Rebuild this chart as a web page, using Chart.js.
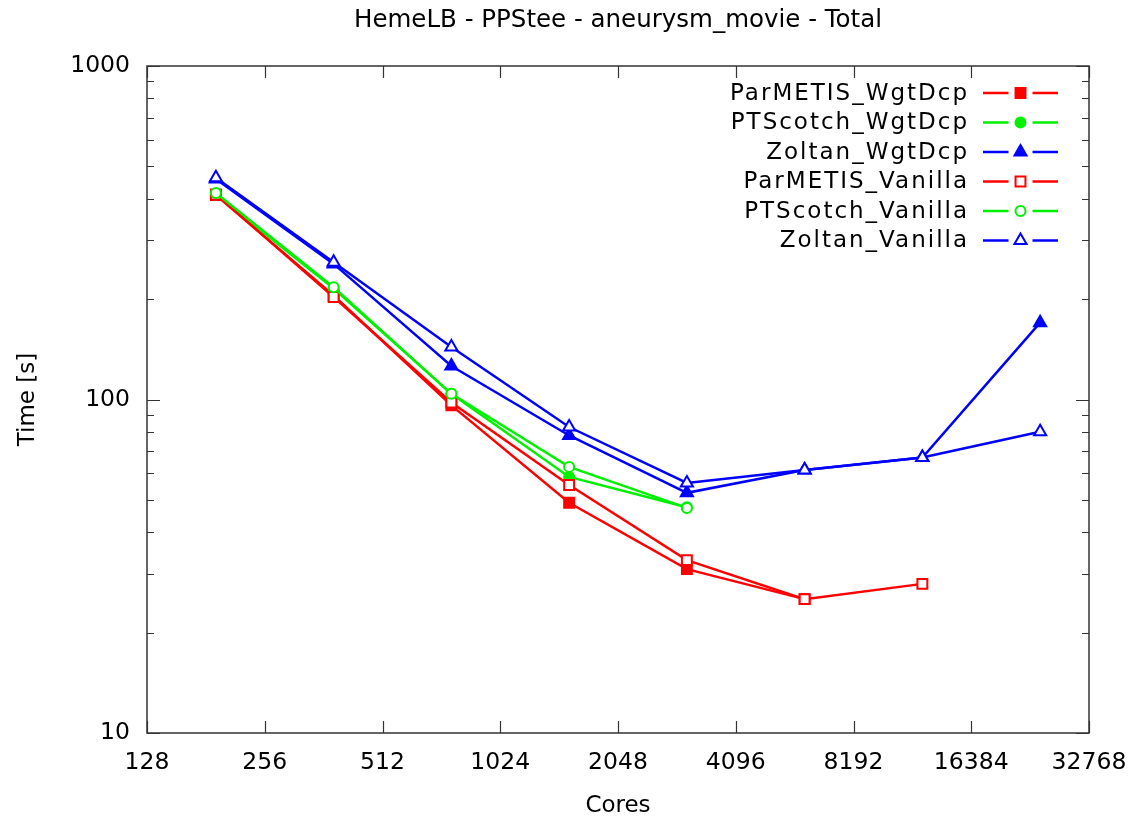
<!DOCTYPE html>
<html>
<head>
<meta charset="utf-8">
<script src="https://cdn.jsdelivr.net/npm/chart.js@4/dist/chart.umd.min.js"></script>
<style>
  body { margin: 0; background: #fff; }
</style>
</head>
<body>
<canvas id="chart" width="1137" height="822"></canvas>
<script>
const cores = [192, 384, 768, 1536, 3072, 6144, 12288, 24576];
const xTicks = [128, 256, 512, 1024, 2048, 4096, 8192, 16384, 32768];
const yTicks = [10, 100, 1000];

const parmetisWgtDcp = [410, 205, 96, 49, 31, 25.2, null, null];
const ptscotchWgtDcp = [412, 215, 104, 58.6, 47.5, null, null, null];
const zoltanWgtDcp = [458, 255, 126, 78, 52.5, 61.5, 67, 170];
const parmetisVanilla = [412, 203, 98, 55.4, 33, 25.2, 28, null];
const ptscotchVanilla = [416, 217, 104, 62.8, 47.3, null, null, null];
const zoltanVanilla = [462, 258, 143.6, 82.7, 56.2, 61.5, 67, 80];

const FONT = "'DejaVu Sans', sans-serif";
const RED = "#ff0000", GREEN = "#00f000", BLUE = "#0000ff";

const toPoints = (vals) =>
  cores.map((c, i) => ({ x: c, y: vals[i] })).filter((p) => p.y !== null);

const makeSet = (label, vals, color, style, filled, radius, order) => ({
  label,
  data: toPoints(vals),
  borderColor: color,
  backgroundColor: color,
  borderWidth: 2.5,
  pointStyle: style,
  pointRadius: radius,
  pointBorderWidth: 2,
  pointBorderColor: color,
  pointBackgroundColor: filled ? color : "#ffffff",
  tension: 0,
  order,
});

const datasets = [
  makeSet("ParMETIS_WgtDcp", parmetisWgtDcp, RED, "rect", true, 7, 5),
  makeSet("PTScotch_WgtDcp", ptscotchWgtDcp, GREEN, "circle", true, 5, 4),
  makeSet("Zoltan_WgtDcp", zoltanWgtDcp, BLUE, "triangle", true, 7, 3),
  makeSet("ParMETIS_Vanilla", parmetisVanilla, RED, "rect", false, 7, 2),
  makeSet("PTScotch_Vanilla", ptscotchVanilla, GREEN, "circle", false, 5, 1),
  makeSet("Zoltan_Vanilla", zoltanVanilla, BLUE, "triangle", false, 7, 0),
];

// title centred over the plot area
const plotTitle = {
  id: "plotTitle",
  afterDraw(chart) {
    const { ctx, chartArea: a } = chart;
    ctx.save();
    ctx.font = "24.5px " + FONT;
    ctx.fillStyle = "#000";
    ctx.textAlign = "center";
    ctx.textBaseline = "middle";
    ctx.fillText("HemeLB - PPStee - aneurysm_movie - Total", (a.left + a.right) / 2, 21);
    ctx.restore();
  },
};

// frame + inward ticks like gnuplot
const frameTicks = {
  id: "frameTicks",
  afterDraw(chart) {
    const { ctx, chartArea: a, scales } = chart;
    ctx.save();
    ctx.strokeStyle = "#333";
    ctx.lineWidth = 1.5;
    ctx.strokeRect(a.left, a.top, a.right - a.left, a.bottom - a.top);
    ctx.lineWidth = 1.2;
    ctx.beginPath();
    xTicks.forEach((v) => {
      const x = Math.round(scales.x.getPixelForValue(v)) + 0.5;
      ctx.moveTo(x, a.bottom); ctx.lineTo(x, a.bottom - 12);
      ctx.moveTo(x, a.top); ctx.lineTo(x, a.top + 12);
    });
    for (let d = 10; d < 1000; d *= 10) {
      for (let k = 1; k <= 10; k++) {
        const y = Math.round(scales.y.getPixelForValue(d * k)) + 0.5;
        const len = k === 1 || k === 10 ? 13 : 7;
        ctx.moveTo(a.left, y); ctx.lineTo(a.left + len, y);
        ctx.moveTo(a.right, y); ctx.lineTo(a.right - len, y);
      }
    }
    ctx.stroke();
    ctx.restore();
  },
};

// gnuplot style key: text right aligned, sample line with point
const keyBox = {
  id: "keyBox",
  afterDatasetsDraw(chart) {
    const { ctx } = chart;
    const textRight = 967, lineL = 983, lineR = 1058, top = 93, step = 29.5;
    const mid = (lineL + lineR) / 2, gap = 12;
    ctx.save();
    ctx.font = "23px " + FONT;
    ctx.letterSpacing = "2px";
    ctx.textAlign = "right";
    ctx.textBaseline = "middle";
    chart.data.datasets.forEach((ds, i) => {
      const y = top + i * step;
      ctx.fillStyle = "#000";
      ctx.fillText(ds.label, textRight + 2, y + 1);
      ctx.strokeStyle = ds.borderColor;
      ctx.lineWidth = 2.5;
      ctx.beginPath();
      ctx.moveTo(lineL, y); ctx.lineTo(mid - gap, y);
      ctx.moveTo(mid + gap, y); ctx.lineTo(lineR, y);
      ctx.stroke();
      ctx.fillStyle = ds.pointBackgroundColor;
      ctx.strokeStyle = ds.pointBorderColor;
      ctx.lineWidth = 2;
      Chart.helpers.drawPoint(ctx, {
        pointStyle: ds.pointStyle,
        radius: ds.pointRadius,
        borderWidth: 2,
        rotation: 0,
      }, mid, y);
    });
    ctx.restore();
  },
};

new Chart(document.getElementById("chart"), {
  type: "line",
  data: { datasets },
  options: {
    responsive: false,
    animation: false,
    layout: { padding: { left: 0, right: 48, top: 66, bottom: 0 } },
    plugins: {
      legend: { display: false },
      tooltip: { enabled: false },
      title: { display: false },
    },
    scales: {
      x: {
        type: "logarithmic",
        min: 128,
        max: 32768,
        afterBuildTicks: (s) => { s.ticks = xTicks.map((v) => ({ value: v })); },
        afterFit: (s) => { s.height = 89; s.paddingLeft = 0; s.paddingRight = 0; },
        grid: { display: false, drawTicks: false },
        border: { display: false },
        ticks: {
          color: "#000",
          font: { family: FONT, size: 23.5 },
          padding: 16,
          maxRotation: 0,
          autoSkip: false,
          callback: (v) => String(v),
        },
        title: {
          display: true,
          text: "Cores",
          color: "#000",
          font: { family: FONT, size: 23 },
          padding: { top: 0, bottom: 2 },
        },
      },
      y: {
        type: "logarithmic",
        min: 10,
        max: 1000,
        afterBuildTicks: (s) => { s.ticks = yTicks.map((v) => ({ value: v })); },
        afterFit: (s) => { s.width = 147; },
        grid: { display: false, drawTicks: false },
        border: { display: false },
        ticks: {
          color: "#000",
          font: { family: FONT, size: 23.5 },
          padding: 17,
          autoSkip: false,
          callback: (v) => String(v),
        },
        title: {
          display: true,
          text: "Time [s]",
          color: "#000",
          font: { family: FONT, size: 23 },
          padding: { top: 14, bottom: 0 },
        },
      },
    },
  },
  plugins: [frameTicks, keyBox, plotTitle],
});
</script>
</body>
</html>
